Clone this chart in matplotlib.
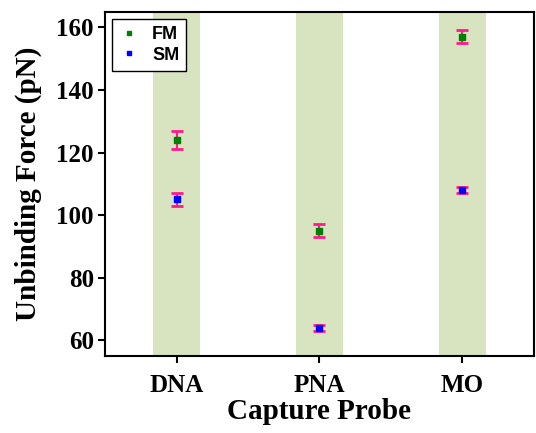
import numpy as np
import matplotlib
matplotlib.use("Agg")
from matplotlib import pyplot as plt
from matplotlib.ticker import MultipleLocator

probes = ["DNA", "PNA", "MO"]
fm_force = [124, 95, 157]
fm_err = [3, 2, 2]
sm_force = [105, 64, 108]
sm_err = [2, 1, 1]

plt.rcParams['font.family'] = ['Liberation Serif', 'DejaVu Serif']

fig = plt.figure(figsize=(5.36, 4.33), dpi=100)
ax = fig.add_axes([0.196, 0.178, 0.80, 0.795])

x = np.arange(len(probes))
for xi in x:
    ax.axvspan(xi - 0.167, xi + 0.167, color='#d8e3bf', lw=0, zorder=0)

ax.errorbar(x, fm_force, yerr=fm_err, fmt='none', ecolor='#ff1a8c',
            elinewidth=1.5, capsize=4, capthick=2, zorder=2)
ax.errorbar(x, sm_force, yerr=sm_err, fmt='none', ecolor='#ff1a8c',
            elinewidth=1.5, capsize=4, capthick=2, zorder=2)
ax.plot(x, fm_force, 's', color='green', ms=4, ls='none', label='FM', zorder=3)
ax.plot(x, sm_force, 's', color='blue', ms=4, ls='none', label='SM', zorder=3)

ax.set_xlim(-0.5, 2.5)
ax.set_ylim(55, 165)
ax.set_xticks(x)
ax.set_xticklabels(probes)
ax.yaxis.set_major_locator(MultipleLocator(20))
ax.tick_params(which='major', direction='out', length=5, width=1.5, labelsize=18, pad=3)
ax.tick_params(axis='x', pad=8)
for t in ax.get_xticklabels() + ax.get_yticklabels():
    t.set_fontweight('bold')
for s in ax.spines.values():
    s.set_linewidth(1.5)

ax.set_xlabel('Capture Probe', fontsize=21, fontweight='bold', labelpad=1)
ax.set_ylabel('Unbinding Force (pN)', fontsize=21, fontweight='bold', labelpad=10)

leg = ax.legend(loc='upper left', handletextpad=0.8, markerscale=0.8, borderpad=0.4,
                prop={'family': 'Liberation Sans', 'weight': 'bold', 'size': 13},
                fancybox=False, edgecolor='black', framealpha=1, handlelength=1.0,
                labelspacing=0.2, borderaxespad=0.4)
leg.get_frame().set_linewidth(1)

fig.savefig('out.png', dpi=100)
